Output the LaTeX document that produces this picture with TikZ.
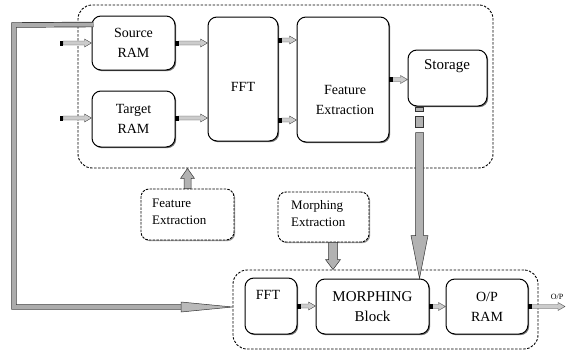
\documentclass[tikz,border=0pt]{standalone}
\usepackage{fontspec}
\setmainfont{Liberation Serif}
\usetikzlibrary{calc,shadows}
\tikzset{
 blk/.style={draw, line width=1pt, rounded corners=9pt, fill=white, inner sep=0pt, align=center,
   font=\fontsize{14}{20}\selectfont,
   drop shadow={shadow xshift=1.2pt,shadow yshift=-1.2pt,fill=black,opacity=0.55}},
 dblk/.style={draw, line width=0.9pt, dash pattern=on 2.5pt off 1.2pt, rounded corners=8pt, fill=white,
   drop shadow={shadow xshift=1.2pt,shadow yshift=-1.2pt,fill=black,opacity=0.4}},
 dbox/.style={draw, line width=0.9pt, dash pattern=on 2.5pt off 1.5pt, rounded corners=14pt},
 lbl/.style={inner sep=0pt, align=center, font=\fontsize{14}{20}\selectfont},
 slbl/.style={inner sep=0pt, align=left, font=\fontsize{13}{17}\selectfont},
 bar/.style={draw=gray!40!black, line width=0.5pt, fill=gray!60},
}
\newcommand\hfat[2]{%
 \draw[draw=black!70, fill=gray!40, line width=0.4pt] let \p1=(#1), \p2=(#2) in
   (\x1+3pt,\y1+2pt) -- (\x2-7pt,\y1+2pt) -- (\x2-7pt,\y1+4pt) -- (\x2,\y1)
   -- (\x2-7pt,\y1-4pt) -- (\x2-7pt,\y1-2pt) -- (\x1+3pt,\y1-2pt) -- cycle;
 \fill let \p1=(#1) in (\x1-0.5pt,\y1-2.5pt) rectangle (\x1+3pt,\y1+2.5pt);}
\newcommand\vfat[5]{%
 \draw[bar] let \p1=(#1), \p2=(#2) in
   (\x1-#3,\y1) -- (\x1-#3,\y2+#5) -- (\x1-#4,\y2+#5) -- (\x1,\y2)
   -- (\x1+#4,\y2+#5) -- (\x1+#3,\y2+#5) -- (\x1+#3,\y1) -- cycle;}
\begin{document}
\begin{tikzpicture}[x=1pt,y=-1pt]
\useasboundingbox (0,0) rectangle (571,351);

% dashed groups
\node[dbox, minimum width=415, minimum height=163] (top) at (285.5,86.5) {};
\node[dbox, minimum width=305, minimum height=79] (bot) at (385.5,309.5) {};

% top blocks
\node[blk, minimum width=83, minimum height=54] (src) at (133.5,43) {Source\\RAM};
\node[blk, minimum width=83, minimum height=56] (tgt) at (133.5,119) {Target\\RAM};
\node[blk, minimum width=70, minimum height=124] (fft) at (243,79) {};
\node[lbl] (fftt) at (243,87) {FFT};
\node[blk, minimum width=92, minimum height=125] (fe) at (343,79.5) {};
\node[lbl] (fet) at (345,100) {Feature\\Extraction};
\node[blk, minimum width=79, minimum height=56] (stor) at (447.5,78) {};
\node[lbl, font=\fontsize{15}{20}\selectfont] (stort) at (447,66) {Storage};

% side boxes
\node[dblk, minimum width=93, minimum height=51] (fe2) at (187.5,214.5) {};
\node[slbl, anchor=west] (fe2t) at (152,211.5) {Feature\\Extraction};
\node[dblk, minimum width=91, minimum height=50] (me) at (323.5,217) {};
\node[slbl, anchor=west] (met) at (291,214) {Morphing\\Extraction};

% bottom blocks
\node[blk, minimum width=52, minimum height=56] (fft2) at (271,306) {};
\node[lbl] (fft2t) at (268,295) {FFT};
\node[blk, minimum width=113, minimum height=55, font=\fontsize{15}{20}\selectfont] (morph) at (372.5,306.5) {MORPHING\\Block};
\node[blk, minimum width=82, minimum height=55] (opr) at (487,306.5) {O/P\\RAM};

% small arrows
\coordinate (srcin) at (60,43);
\coordinate (tgtin) at (60,118);
\hfat{srcin}{src.west}
\hfat{tgtin}{tgtin -| tgt.west}
\hfat{src.east}{src.east -| fft.west}
\coordinate (tgto) at (tgt.east |- tgtin);
\hfat{tgto}{tgto -| fft.west}
\coordinate (ffa) at ($(fft.east)+(0,-39)$);
\coordinate (ffb) at ($(fft.east)+(0,41)$);
\hfat{ffa}{ffa -| fe.west}
\hfat{ffb}{ffb -| fe.west}
\hfat{fe.east}{fe.east -| stor.west}
\hfat{fft2.east}{fft2.east -| morph.west}
\hfat{morph.east}{morph.east -| opr.west}
\coordinate (out) at (565,306.5);
\hfat{opr.east}{out}
\node[inner sep=0pt, font=\fontsize{8}{9}\selectfont] (outl) at (557,297) {O/P};

% storage down arrow
\coordinate (sbot) at ($(stor.south west)+(12,0)$);
\draw[bar] ($(sbot)+(-4,1)$) rectangle ($(sbot)+(4,5)$);
\draw[bar] ($(sbot)+(-4,10)$) rectangle ($(sbot)+(4,21)$);
\coordinate (sdn) at ($(sbot)+(0,26)$);
\vfat{sdn}{sbot |- morph.north}{4pt}{8.5pt}{43pt}

% feature extraction up arrow, morphing down arrow
\vfat{fe2.north}{fe2.north |- top.south}{3.5pt}{7pt}{-10pt}
\coordinate (mes) at ($(me.south)+(9.5,0)$);
\vfat{mes}{mes |- bot.north}{4.5pt}{7.5pt}{10pt}

% left feedback path
\coordinate (lt0) at ($(src.north west)+(2,9)$);
\coordinate (ltc) at (14,25);
\coordinate (lbc) at (14,307);
\coordinate (lbe) at (181,307);
\coordinate (lbt) at (bot.west |- lbe);
\draw[draw=gray!35!black, double=gray!65, double distance=4pt, line width=0.7pt] (lt0) -- (ltc) -- (lbc) -- (lbe);
\draw[bar, fill=gray!55] let \p1=(lbe), \p2=(lbt) in
  (\x1,\y1+5pt) -- (\x2,\y1) -- (\x1,\y1-5pt) -- cycle;
\end{tikzpicture}
\end{document}
